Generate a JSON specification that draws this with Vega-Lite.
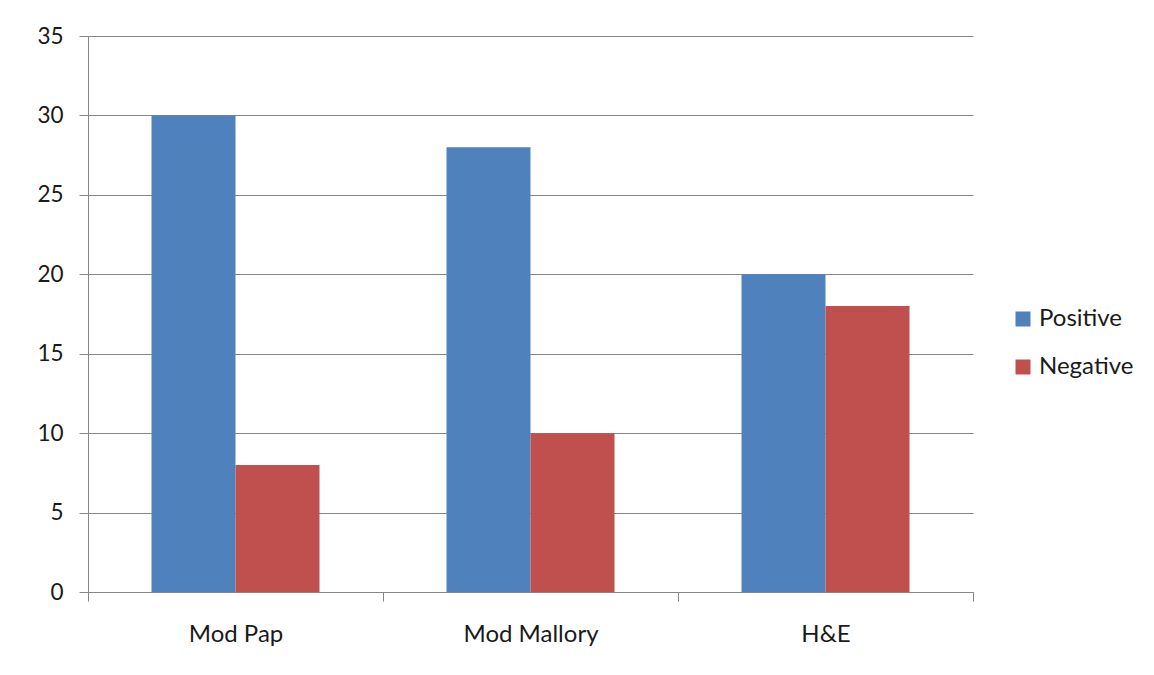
{
  "$schema": "https://vega.github.io/schema/vega-lite/v6.json",
  "width": 885,
  "height": 556,
  "autosize": {"type": "none"},
  "padding": {"left": 88, "top": 36, "right": 181, "bottom": 83},
  "background": "white",
  "config": {
    "view": {"stroke": null},
    "font": "Lato"
  },
  "data": {
    "values": [
      {"stain": "Mod Pap", "result": "Positive", "count": 30},
      {"stain": "Mod Pap", "result": "Negative", "count": 8},
      {"stain": "Mod Mallory", "result": "Positive", "count": 28},
      {"stain": "Mod Mallory", "result": "Negative", "count": 10},
      {"stain": "H&E", "result": "Positive", "count": 20},
      {"stain": "H&E", "result": "Negative", "count": 18}
    ]
  },
  "mark": {"type": "bar"},
  "encoding": {
    "x": {
      "field": "stain",
      "type": "nominal",
      "sort": ["Mod Pap", "Mod Mallory", "H&E"],
      "scale": {"paddingInner": 0, "paddingOuter": 0},
      "axis": {
        "title": null,
        "labelAngle": 0,
        "labelFontSize": 24,
        "labelColor": "#1a1a1a",
        "labelPadding": 21,
        "tickBand": "extent",
        "tickSize": 9,
        "tickColor": "#868686",
        "domainColor": "#868686",
        "grid": false
      }
    },
    "xOffset": {
      "field": "result",
      "type": "nominal",
      "sort": ["Positive", "Negative"],
      "scale": {"paddingInner": 0, "paddingOuter": 0.756}
    },
    "y": {
      "field": "count",
      "type": "quantitative",
      "scale": {"domain": [0, 35], "nice": false},
      "axis": {
        "title": null,
        "values": [0, 5, 10, 15, 20, 25, 30, 35],
        "labelFontSize": 22.5,
        "labelColor": "#1a1a1a",
        "labelPadding": 16,
        "tickSize": 9,
        "tickColor": "#868686",
        "domainColor": "#868686",
        "gridColor": "#868686",
        "gridOpacity": 1
      }
    },
    "color": {
      "field": "result",
      "type": "nominal",
      "sort": ["Positive", "Negative"],
      "scale": {"domain": ["Positive", "Negative"], "range": ["#4F81BD", "#C0504D"]},
      "legend": {
        "title": null,
        "orient": "none",
        "legendX": 923,
        "legendY": 271,
        "padding": 0,
        "symbolType": "square",
        "symbolSize": 225,
        "symbolStrokeWidth": 0,
        "symbolOpacity": 1,
        "labelFontSize": 24,
        "labelColor": "#1a1a1a",
        "labelOffset": 4,
        "rowPadding": 24
      }
    }
  }
}
